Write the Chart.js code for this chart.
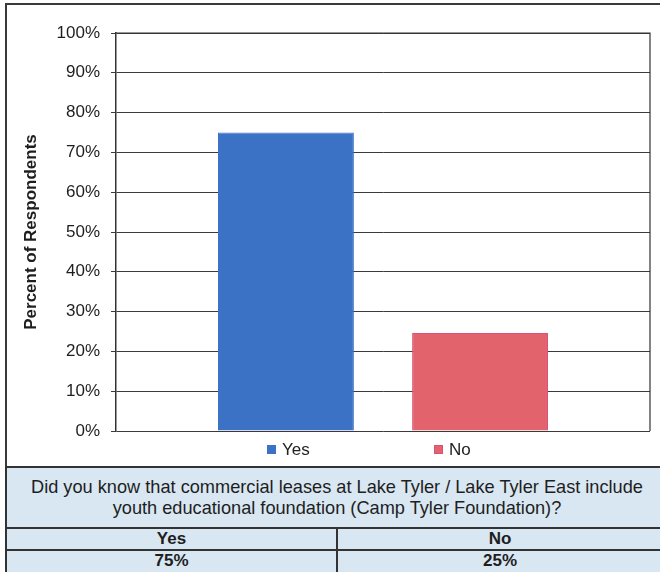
<!DOCTYPE html>
<html>
<head>
<meta charset="utf-8">
<script src="https://cdn.jsdelivr.net/npm/chart.js@4.4.1/dist/chart.umd.min.js"></script>
<style>
  body {
    margin: 0;
    width: 660px;
    height: 572px;
    overflow: hidden;
    background: #fff;
    position: relative;
    font-family: Arial, "Liberation Sans", sans-serif;
  }
  #frame {
    position: absolute;
    left: 5px;
    top: 3px;
    width: 700px;
    height: 470px;
    border-left: 2px solid #3a3a3a;
    border-top: 2px solid #3a3a3a;
  }
  #chartBox {
    position: absolute;
    left: 0;
    top: 0;
    width: 660px;
    height: 467px;
  }
  table {
    position: absolute;
    left: 5px;
    top: 466px;
    width: 700px;
    border-collapse: collapse;
    background: #d8e7f2;
    color: #1e1e1e;
    font-size: 17px;
    table-layout: fixed;
  }
  td {
    border: 2px solid #333;
    text-align: center;
    padding: 0;
  }
  .q {
    height: 59px;
    line-height: 21px;
    font-size: 18.2px;
    padding-left: 0;
  }
  .qin {
    width: 660px;
    text-align: center;
    padding-top: 1px;
  }
  .h td {
    height: 20px;
    line-height: 20px;
    font-weight: bold;
  }
  .v td {
    height: 26px;
    line-height: 20px;
    vertical-align: top;
    font-weight: bold;
  }
</style>
</head>
<body>
<div id="frame"></div>
<div id="chartBox"><canvas id="myChart"></canvas></div>
<table>
  <colgroup><col style="width:331px"><col></colgroup>
  <tr><td class="q" colspan="2"><div class="qin" id="question"></div></td></tr>
  <tr class="h"><td id="h0"></td><td id="h1" style="text-align:left"></td></tr>
  <tr class="v"><td id="v0"></td><td id="v1" style="text-align:left"></td></tr>
</table>
<script>
// Datos
const respuestas = ["Yes", "No"];
const porcentajes = [75, 24.6];
const colores = ["#3c72c6", "#e2636c"];
const bordes = ["#3c72c6", "#dc4f7c"];
const yTicks = [0, 10, 20, 30, 40, 50, 60, 70, 80, 90, 100];
const pregunta = "Did you know that commercial leases at Lake Tyler / Lake Tyler East include<br>youth educational foundation (Camp Tyler Foundation)?";
const tablaValores = ["75%", "25%"];

document.getElementById("question").innerHTML = pregunta;
respuestas.forEach((r, i) => {
  document.getElementById("h" + i).textContent = r;
  document.getElementById("v" + i).textContent = tablaValores[i];
});
// la segunda columna sale de la ventana, centrar el texto en la parte visible
["h1", "v1"].forEach((id) => {
  const el = document.getElementById(id);
  el.innerHTML = '<div style="width:324px;text-align:center">' + el.textContent + "</div>";
});

const fuente = "Arial, 'Liberation Sans', sans-serif";

// borde derecho del area de la grafica
const marcoPlot = {
  id: "marcoPlot",
  afterDatasetsDraw(chart) {
    const a = chart.chartArea;
    const ctx = chart.ctx;
    ctx.save();
    ctx.strokeStyle = "#333";
    ctx.lineWidth = 1.2;
    ctx.beginPath();
    ctx.moveTo(a.left, a.top);
    ctx.lineTo(a.right, a.top);
    ctx.lineTo(a.right, a.bottom);
    ctx.stroke();
    ctx.restore();
  },
};

// leyenda abajo, dibujada a mano
const leyendaAbajo = {
  id: "leyendaAbajo",
  afterDraw(chart) {
    const a = chart.chartArea;
    const ctx = chart.ctx;
    const centerX = (a.left + a.right) / 2;
    const y = a.bottom + 18;
    ctx.save();
    ctx.font = "17px " + fuente;
    ctx.textBaseline = "middle";
    ctx.textAlign = "left";
    let x = centerX - 116;
    chart.data.datasets.forEach((ds) => {
      ctx.fillStyle = ds.backgroundColor;
      ctx.fillRect(x, y - 4, 9, 9);
      ctx.strokeStyle = ds.borderColor;
      ctx.lineWidth = 1;
      ctx.strokeRect(x + 0.5, y - 3.5, 8, 8);
      ctx.fillStyle = "#222";
      ctx.fillText(ds.label, x + 15, y + 1);
      x += 167;
    });
    ctx.restore();
  },
};

const data = {
  labels: [""],
  datasets: respuestas.map((r, i) => ({
    label: r,
    data: [porcentajes[i]],
    backgroundColor: colores[i],
    borderColor: bordes[i],
    borderWidth: 1,
    categoryPercentage: 0.727,
    barPercentage: 0.70,
  })),
};

const config = {
  type: "bar",
  data: data,
  options: {
    responsive: false,
    animation: false,
    layout: {
      padding: { top: 33, bottom: 36, right: 10, left: 0 },
    },
    plugins: {
      legend: { display: false },
      tooltip: { enabled: false },
    },
    scales: {
      x: {
        grid: { display: false, drawTicks: false },
        border: { display: false },
        ticks: { display: false },
        afterFit: (scale) => {
          scale.height = 0;
        },
      },
      y: {
        min: 0,
        max: 100,
        afterBuildTicks: (scale) => {
          scale.ticks = yTicks.map((v) => ({ value: v }));
        },
        afterFit: (scale) => {
          scale.width = 116;
        },
        grid: {
          color: "#3a3a3a",
          lineWidth: 1,
          tickLength: 5,
        },
        border: { color: "#333", width: 1.5 },
        ticks: {
          padding: 11,
          color: "#1e1e1e",
          font: { size: 17, family: fuente },
          callback: (v) => v + "%",
        },
        title: {
          display: true,
          text: "Percent of Respondents",
          color: "#1e1e1e",
          font: { size: 17, weight: "bold", family: fuente },
          padding: { top: 21, bottom: 0 },
        },
      },
    },
  },
  plugins: [marcoPlot, leyendaAbajo],
};

const canvas = document.getElementById("myChart");
canvas.width = 660;
canvas.height = 467;
const myChart = new Chart(canvas.getContext("2d"), config);
</script>
</body>
</html>
